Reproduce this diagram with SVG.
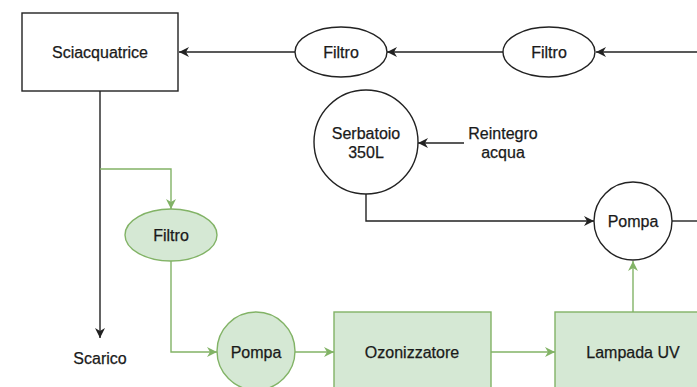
<svg xmlns="http://www.w3.org/2000/svg" width="697" height="387" viewBox="0 0 697 387">
<style>
text{font-family:"Liberation Sans",Arial,sans-serif;font-size:16px;fill:#1a1a1a;stroke:#1a1a1a;stroke-width:0.25;text-anchor:middle;dominant-baseline:central}
.n{fill:#fff;stroke:#222;stroke-width:1.4}
.g{fill:#d5e8d4;stroke:#82b366;stroke-width:1.4}
.e{fill:none;stroke:#222;stroke-width:1.4}
.eg{fill:none;stroke:#82b366;stroke-width:1.4}
</style>
<defs>
<marker id="ab" markerUnits="userSpaceOnUse" markerWidth="12" markerHeight="12" refX="10" refY="5" orient="auto"><path d="M0,0 L10,5 L0,10 L3,5 z" fill="#222"/></marker>
<marker id="ag" markerUnits="userSpaceOnUse" markerWidth="12" markerHeight="12" refX="10" refY="5" orient="auto"><path d="M0,0 L10,5 L0,10 L3,5 z" fill="#82b366"/></marker>
</defs>
<rect width="697" height="387" fill="#fff"/>
<g id="edges">
<path class="e" d="M295,52 L179,52" marker-end="url(#ab)"/>
<path class="e" d="M503,52 L387,52" marker-end="url(#ab)"/>
<path class="e" d="M697,52 L596,52" marker-end="url(#ab)"/>
<path class="e" d="M464,143 L418,143" marker-end="url(#ab)"/>
<path class="e" d="M366,194 V221 H594" marker-end="url(#ab)"/>
<path class="e" d="M672,221 H697"/>
<path class="e" d="M100,91 V338" marker-end="url(#ab)"/>
<path class="eg" d="M100,169 H171 V209" marker-end="url(#ag)"/>
<path class="eg" d="M171,261 V352 H217" marker-end="url(#ag)"/>
<path class="eg" d="M295,352 H334" marker-end="url(#ag)"/>
<path class="eg" d="M491,352 H555" marker-end="url(#ag)"/>
<path class="eg" d="M633,312 V261" marker-end="url(#ag)"/>
</g>
<g id="sciacquatrice"><rect class="n" x="22" y="13" width="156" height="78"/><text x="100" y="52">Sciacquatrice</text></g>
<g id="filtro1"><ellipse class="n" cx="341" cy="52" rx="46" ry="25"/><text x="341" y="52">Filtro</text></g>
<g id="filtro2"><ellipse class="n" cx="549" cy="52" rx="46" ry="25"/><text x="549" y="52">Filtro</text></g>
<g id="serbatoio"><circle class="n" cx="366" cy="142" r="52"/><text x="366" y="133">Serbatoio</text><text x="366" y="152">350L</text></g>
<g id="reintegro"><text x="503" y="133">Reintegro</text><text x="503" y="152">acqua</text></g>
<g id="pompa2"><circle class="n" cx="633" cy="221" r="39"/><text x="633" y="221">Pompa</text></g>
<g id="scarico"><text x="100" y="358">Scarico</text></g>
<g id="filtro3"><ellipse class="g" cx="171" cy="235" rx="46" ry="26"/><text x="171" y="235">Filtro</text></g>
<g id="pompa1"><circle class="g" cx="256" cy="351" r="39"/><text x="256" y="352">Pompa</text></g>
<g id="ozonizzatore"><rect class="g" x="334" y="312" width="157" height="80"/><text x="412" y="352">Ozonizzatore</text></g>
<g id="lampada"><rect class="g" x="555" y="312" width="156" height="80"/><text x="633" y="352">Lampada UV</text></g>
</svg>
